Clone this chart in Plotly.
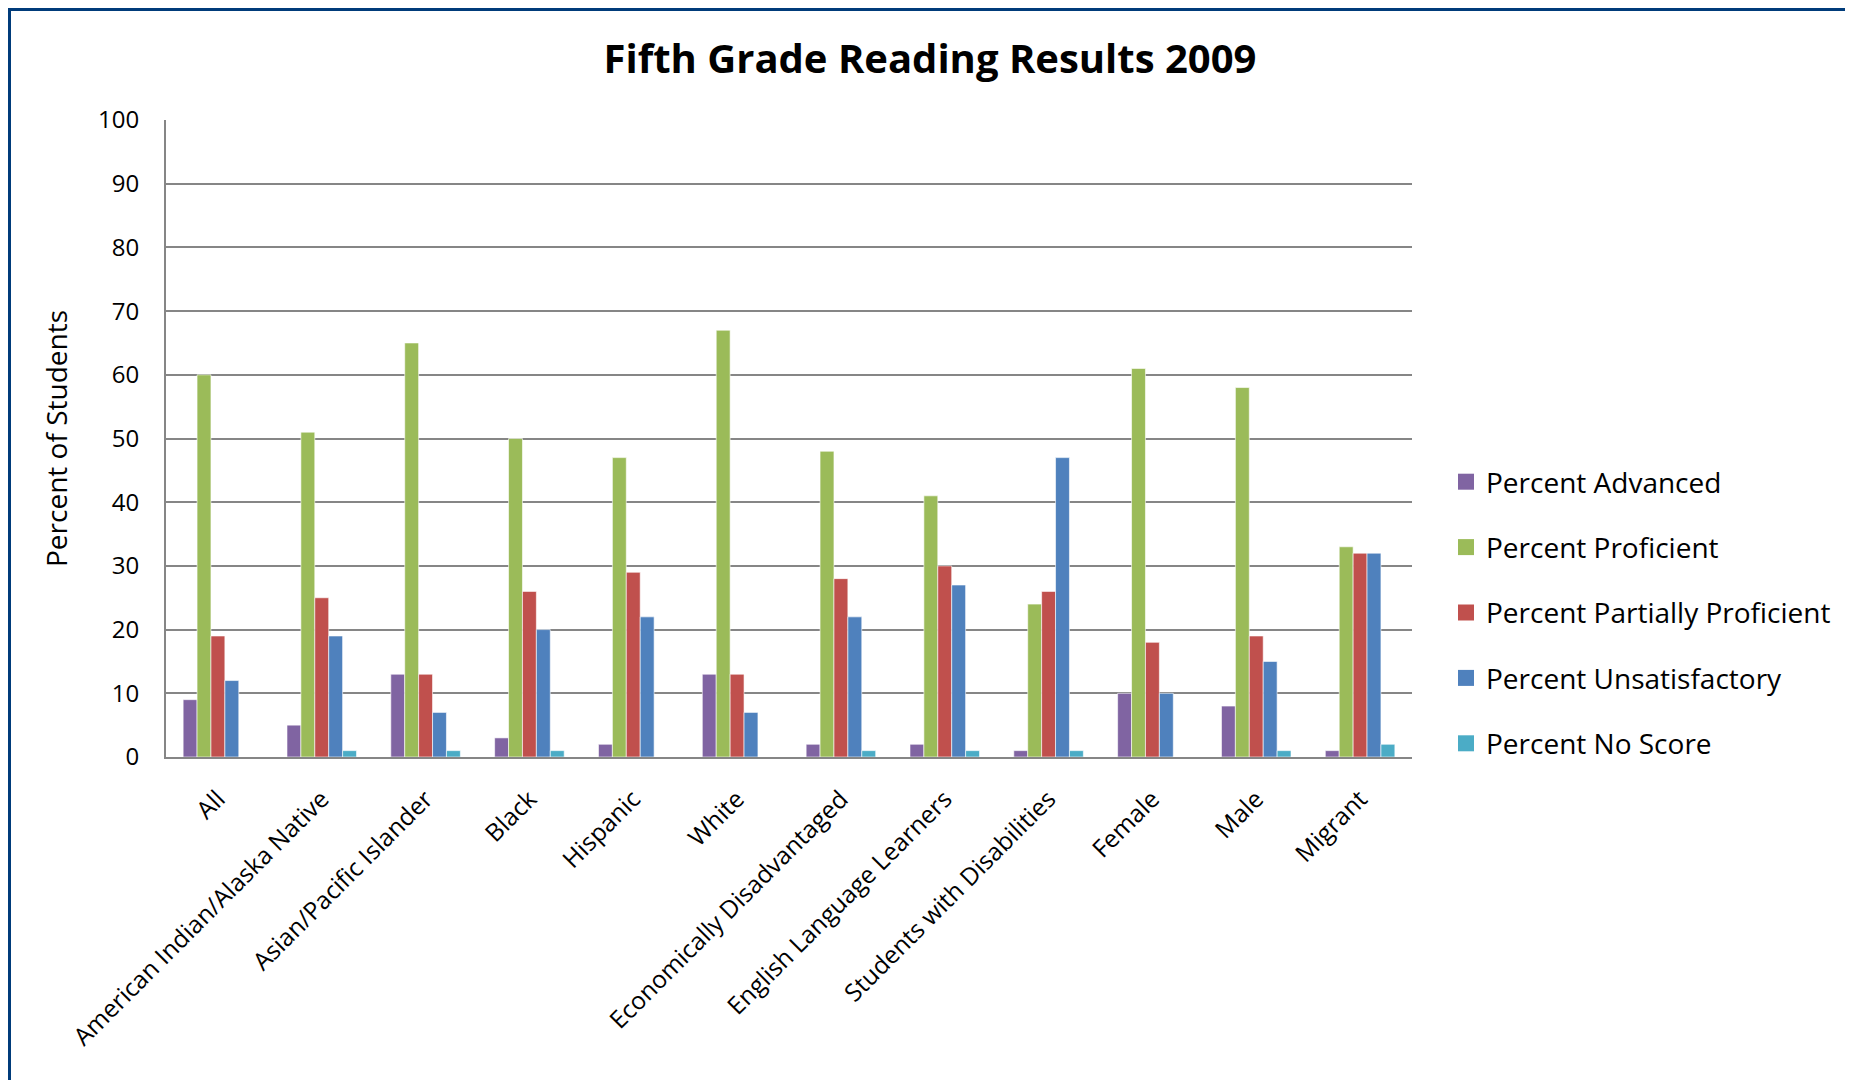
import plotly.graph_objects as go

categories = ["All", "American Indian/Alaska Native", "Asian/Pacific Islander", "Black",
              "Hispanic", "White", "Economically Disadvantaged", "English Language Learners",
              "Students with Disabilities", "Female", "Male", "Migrant"]
advanced = [9, 5, 13, 3, 2, 13, 2, 2, 1, 10, 8, 1]
proficient = [60, 51, 65, 50, 47, 67, 48, 41, 24, 61, 58, 33]
partially = [19, 25, 13, 26, 29, 13, 28, 30, 26, 18, 19, 32]
unsatisfactory = [12, 19, 7, 20, 22, 7, 22, 27, 47, 10, 15, 32]
no_score = [0, 1, 1, 1, 0, 0, 1, 1, 1, 0, 1, 2]

series_names = ["Percent Advanced", "Percent Proficient", "Percent Partially Proficient",
                "Percent Unsatisfactory", "Percent No Score"]
series_values = [advanced, proficient, partially, unsatisfactory, no_score]
colors = ["#8064A2", "#9BBB59", "#C0504D", "#4F81BD", "#4BACC6"]

FONT = "Open Sans"
OFF = 8  # page body margin
W, H = 1853 - OFF, 1080 - OFF
L, R, T, B = 166 - OFF, 1412 - OFF, 120 - OFF, 757 - OFF

fig = go.Figure()
for name, vals, col in zip(series_names, series_values, colors):
    fig.add_trace(go.Bar(x=categories, y=vals, name=name, marker_color=col,
                         marker_line=dict(color="rgba(255,255,255,0.6)", width=1),
                         showlegend=False))
for i, (name, col) in enumerate(zip(series_names, colors)):
    fig.add_trace(go.Scatter(x=[None], y=[None], mode="markers", name=name,
                             marker=dict(symbol="square", size=18, color=col),
                             legendgroup=str(i), showlegend=True))

pw, ph = R - L, B - T
def px(x):
    return (x - L) / pw
def py(y):
    return (B - y) / ph

fig.update_layout(
    width=W, height=H,
    margin=dict(l=L, r=W - R, t=T, b=H - B),
    paper_bgcolor="white", plot_bgcolor="white",
    barmode="group", bargap=0.33, bargroupgap=0,
    font=dict(family=FONT, color="black", size=24),
    title=dict(text="<b>Fifth Grade Reading Results 2009</b>", x=px(922), xref="paper",
               xanchor="center", y=1 - 51 / H, yanchor="middle",
               font=dict(family=FONT, size=40, color="black")),
    xaxis=dict(tickangle=-45, showline=True, linecolor="#868686", linewidth=2,
               showgrid=False, ticks="", tickfont=dict(size=24.5),
               ticklabelstandoff=16),
    yaxis=dict(range=[0, 100], dtick=10, showgrid=True, gridcolor="#868686", gridwidth=1.5,
               showline=True, linecolor="#868686", linewidth=2, ticks="",
               zeroline=False, tickfont=dict(size=24), ticklabelstandoff=20,
               title=dict(text="Percent of Students", font=dict(size=28), standoff=22)),
    legend=dict(x=px(1438), xanchor="left", y=py(449), yanchor="top",
                font=dict(size=28), traceorder="grouped", tracegroupgap=26,
                itemsizing="trace"),
    shapes=[dict(type="rect", xref="paper", yref="paper",
                 x0=px(1), x1=px(1843), y0=py(1095), y1=py(1),
                 line=dict(color="#003B7A", width=4), fillcolor="rgba(0,0,0,0)",
                 layer="above")],
)

fig.write_html("out.html")
